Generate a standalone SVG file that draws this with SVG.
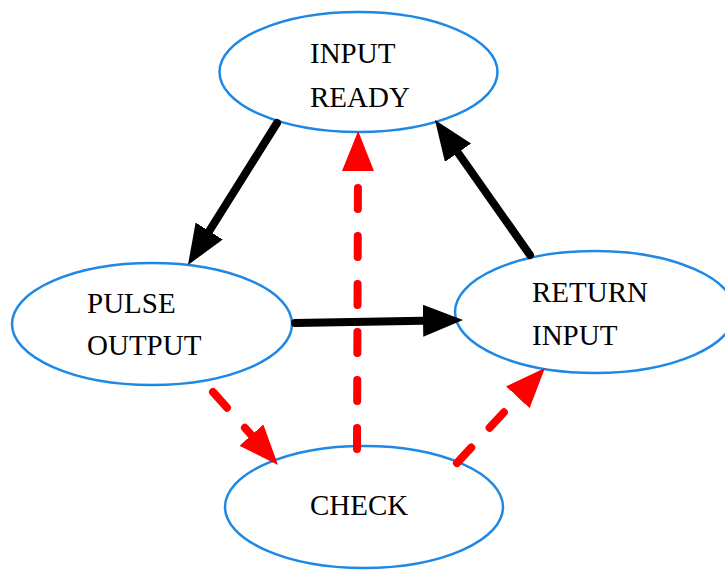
<svg xmlns="http://www.w3.org/2000/svg" width="725" height="570" viewBox="0 0 725 570">
  <defs>
    <style>
      .node ellipse { fill: #ffffff; stroke: #1e88e5; stroke-width: 2.5; }
      .node text { font-family: "Liberation Serif", "DejaVu Serif", serif; font-size: 29px; fill: #000000; }
      .solid { fill: none; stroke: #000000; stroke-width: 8; stroke-linecap: round; }
      .dashed { fill: none; stroke: #ff0000; stroke-width: 8; stroke-linecap: round; stroke-dasharray: 21 27; }
    </style>
    <marker id="head-black" markerUnits="userSpaceOnUse" markerWidth="42" markerHeight="34" refX="0" refY="16" orient="auto">
      <path d="M0,0 L40,16 L0,32 z" fill="#000000"/>
    </marker>
    <marker id="head-red" markerUnits="userSpaceOnUse" markerWidth="42" markerHeight="34" refX="0" refY="16" orient="auto">
      <path d="M0,0 L40,16 L0,32 z" fill="#ff0000"/>
    </marker>
  </defs>

  <rect width="725" height="570" fill="#ffffff"/>

  <!-- nodes -->
  <g id="input-ready" class="node">
    <ellipse cx="358.5" cy="72" rx="139" ry="60"/>
    <text x="310" y="63">INPUT</text>
    <text x="310" y="107">READY</text>
  </g>
  <g id="pulse-output" class="node">
    <ellipse cx="152" cy="324" rx="140" ry="61"/>
    <text x="87" y="313">PULSE</text>
    <text x="87" y="355">OUTPUT</text>
  </g>
  <g id="return-input" class="node">
    <ellipse cx="595" cy="312" rx="140" ry="61"/>
    <text x="532" y="302">RETURN</text>
    <text x="532" y="345">INPUT</text>
  </g>
  <g id="check" class="node">
    <ellipse cx="364" cy="507" rx="139" ry="61"/>
    <text x="310" y="515">CHECK</text>
  </g>

  <!-- connectors -->
  <g id="edges">
    <path class="solid" d="M277,123 L209.2,231.1" marker-end="url(#head-black)"/>
    <path class="solid" d="M530,255 L458,152.7" marker-end="url(#head-black)"/>
    <path class="solid" d="M295,323 L423,320.7" marker-end="url(#head-black)"/>
    <path class="dashed" d="M357,449 L358,171" marker-end="url(#head-red)"/>
    <path class="dashed" d="M213,392 L251.4,435.1" marker-end="url(#head-red)"/>
    <path class="dashed" d="M457,463 L517.8,397.3" marker-end="url(#head-red)"/>
  </g>
</svg>
